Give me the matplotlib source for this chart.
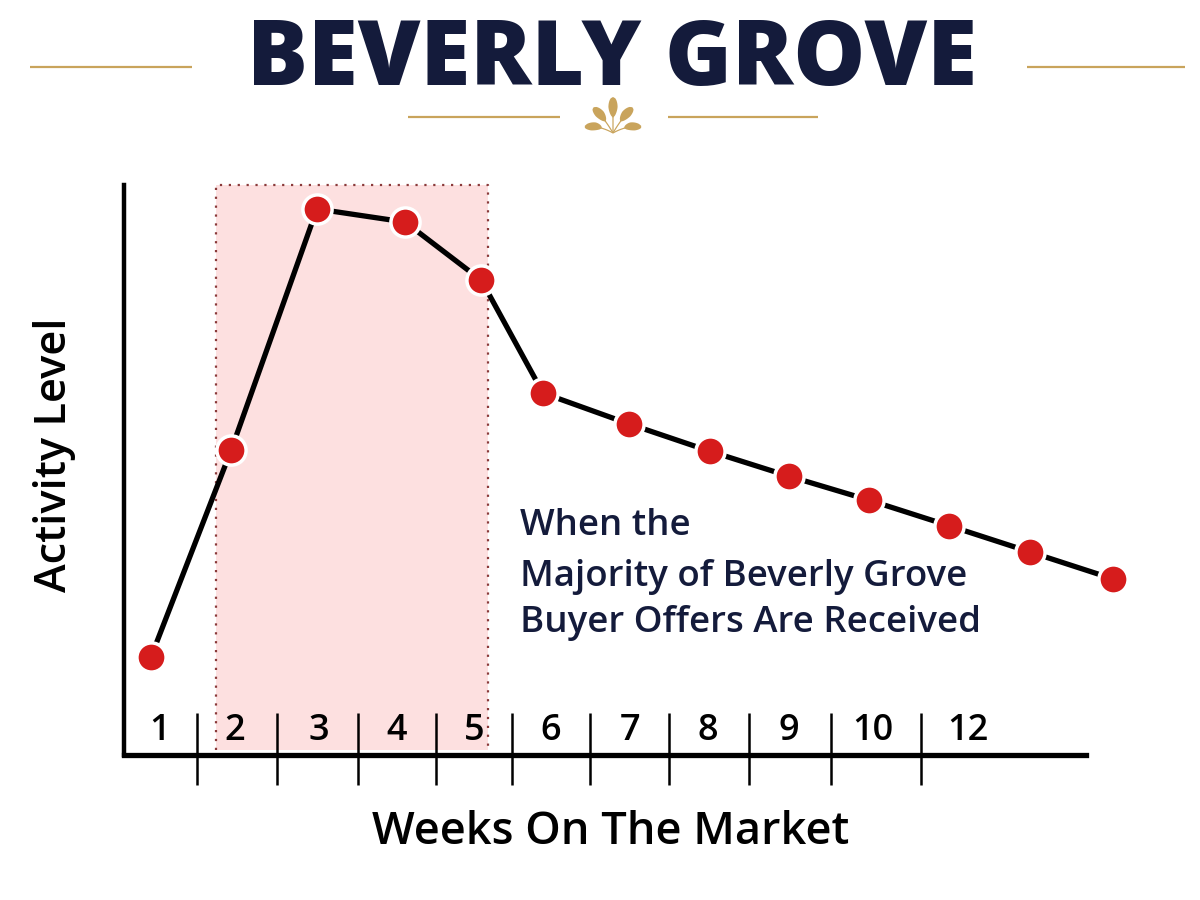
import matplotlib
matplotlib.use("Agg")
import matplotlib.pyplot as plt
from matplotlib.patches import Polygon
import numpy as np

# ---- data ----
week_pos = [1.0, 2.0, 3.07, 4.17, 5.12, 5.89, 6.96, 7.97, 8.96, 9.96, 10.96, 11.97, 13.0]
activity = [17.2, 53.5, 95.8, 93.5, 83.3, 63.5, 58.1, 53.3, 48.9, 44.7, 40.2, 35.6, 30.9]
tick_labels = ["1", "2", "3", "4", "5", "6", "7", "8", "9", "10", "12"]
tick_label_pos = [1.11, 2.05, 3.09, 4.07, 5.03, 5.98, 6.97, 7.95, 8.96, 10.01, 11.19]
window_start, window_end = 1.81, 5.20
title = "BEVERLY GROVE"
note_lines = ["When the", "Majority of Beverly Grove", "Buyer Offers Are Received"]
xlabel = "Weeks On The Market"
ylabel = "Activity Level"

NAVY = "#141b3b"
GOLD = "#c9a45c"
RED = "#d61c1c"
FONT = "Open Sans"

fig = plt.figure(figsize=(12, 9), dpi=100, facecolor="white")
renderer = fig.canvas.get_renderer()


def fit(t, target, horizontal=True):
    bb = t.get_window_extent(renderer)
    cur = bb.width if horizontal else bb.height
    t.set_fontsize(t.get_fontsize() * target / cur)
    return t


# ---- decoration layer (pixel coordinates) ----
deco = fig.add_axes([0, 0, 1, 1])
deco.set_xlim(0, 1200)
deco.set_ylim(900, 0)
deco.axis("off")
tt = deco.text(612, 61, title, ha="center", va="center", fontsize=60,
               fontweight=800, color=NAVY, family=FONT)
fit(tt, 730)
for x0, x1, y in [(30, 192, 67), (1027, 1185, 67), (408, 560, 117), (668, 818, 117)]:
    deco.plot([x0, x1], [y, y], color=GOLD, lw=1.6, solid_capstyle="butt")

# small fan ornament
cx, cy = 613, 133
for ang, ln, bend in [(-60, 28, -0.28), (-30, 32, -0.12), (0, 36, 0.0), (30, 32, 0.12), (60, 28, 0.28)]:
    a = np.deg2rad(ang)
    t = np.linspace(0, 1, 30)
    dirx, diry = np.sin(a), -np.cos(a)
    nx, ny = -diry, dirx
    sx = cx + dirx * ln * t + nx * bend * ln * t ** 2
    sy = cy + diry * ln * t + ny * bend * ln * t ** 2
    w = 4.6 * np.sqrt(np.clip(1 - ((t - 0.72) / 0.28) ** 2, 0, 1)) * np.clip(t / 0.72, 0, 1) ** 0.6
    w = np.maximum(w, 0.6 * (t < 0.95))
    left = np.column_stack([sx + nx * w, sy + ny * w])
    right = np.column_stack([sx - nx * w, sy - ny * w])[::-1]
    deco.add_patch(Polygon(np.vstack([left, right]), closed=True, color=GOLD, lw=0))

# ---- main chart ----
L, R = 124 / 1200, 1086 / 1200
B, T = (900 - 755) / 900, (900 - 185) / 900
ax = fig.add_axes([L, B, R - L, T - B])
ax.set_facecolor("none")
px_per_week = (1113 - 151) / 12.0
ax.set_xlim(1 - 27 / px_per_week, 1 + 935 / px_per_week)
ax.set_ylim(0, 100)
for s in ["top", "right"]:
    ax.spines[s].set_visible(False)
ax.spines["left"].set_linewidth(3.2)
ax.spines["bottom"].set_linewidth(3.8)
ax.spines["left"].set_bounds(0, 100)
ax.set_xticks([])
ax.set_yticks([])

# highlighted window
ax.axvspan(window_start, window_end, ymin=0.009, ymax=1.0, color="#fde0e0", lw=0, zorder=0)
ax.plot([window_start, window_start, window_end, window_end], [0.9, 100, 100, 0.9],
        color="#8a3a3a", lw=1.6, ls=(0, (1, 3)), zorder=1, clip_on=False)

# separators
seps = [(a + b) / 2 for a, b in zip(tick_label_pos[:-1], tick_label_pos[1:])]
ax.vlines(seps, -30 / 570, 42 / 570, transform=ax.get_xaxis_transform(),
          color="black", lw=1.8, clip_on=False, zorder=3)
for p, lab in zip(tick_label_pos, tick_labels):
    ax.text(p, 24 / 570, lab, transform=ax.get_xaxis_transform(), ha="center",
            va="center", fontsize=26, color="black", family=FONT, fontweight="semibold")

# line + markers
ax.plot(week_pos, activity, color="black", lw=3.8, zorder=4, clip_on=False)
ax.plot(week_pos, activity, ls="none", marker="o", markersize=21,
        markerfacecolor=RED, markeredgecolor="white", markeredgewidth=2.5,
        zorder=5, clip_on=False)

# annotation (pixel layout in deco layer)
note_y = [526, 577, 623]
texts = [deco.text(520, y, s, ha="left", va="center", fontsize=24, color=NAVY,
                   family=FONT, fontweight="semibold", zorder=10)
         for s, y in zip(note_lines, note_y)]
fit(texts[2], 462)
for t in texts[:2]:
    t.set_fontsize(texts[2].get_fontsize())

# axis labels
yl = deco.text(55, 455, ylabel, rotation=90, ha="center", va="center",
               fontsize=28, color="black", family=FONT, fontweight="semibold")
fit(yl, 274, horizontal=False)
xl = deco.text(611, 832, xlabel, ha="center", va="center",
               fontsize=30, color="black", family=FONT, fontweight="semibold")
fit(xl, 477)

fig.savefig("out.png", dpi=100, facecolor="white")
